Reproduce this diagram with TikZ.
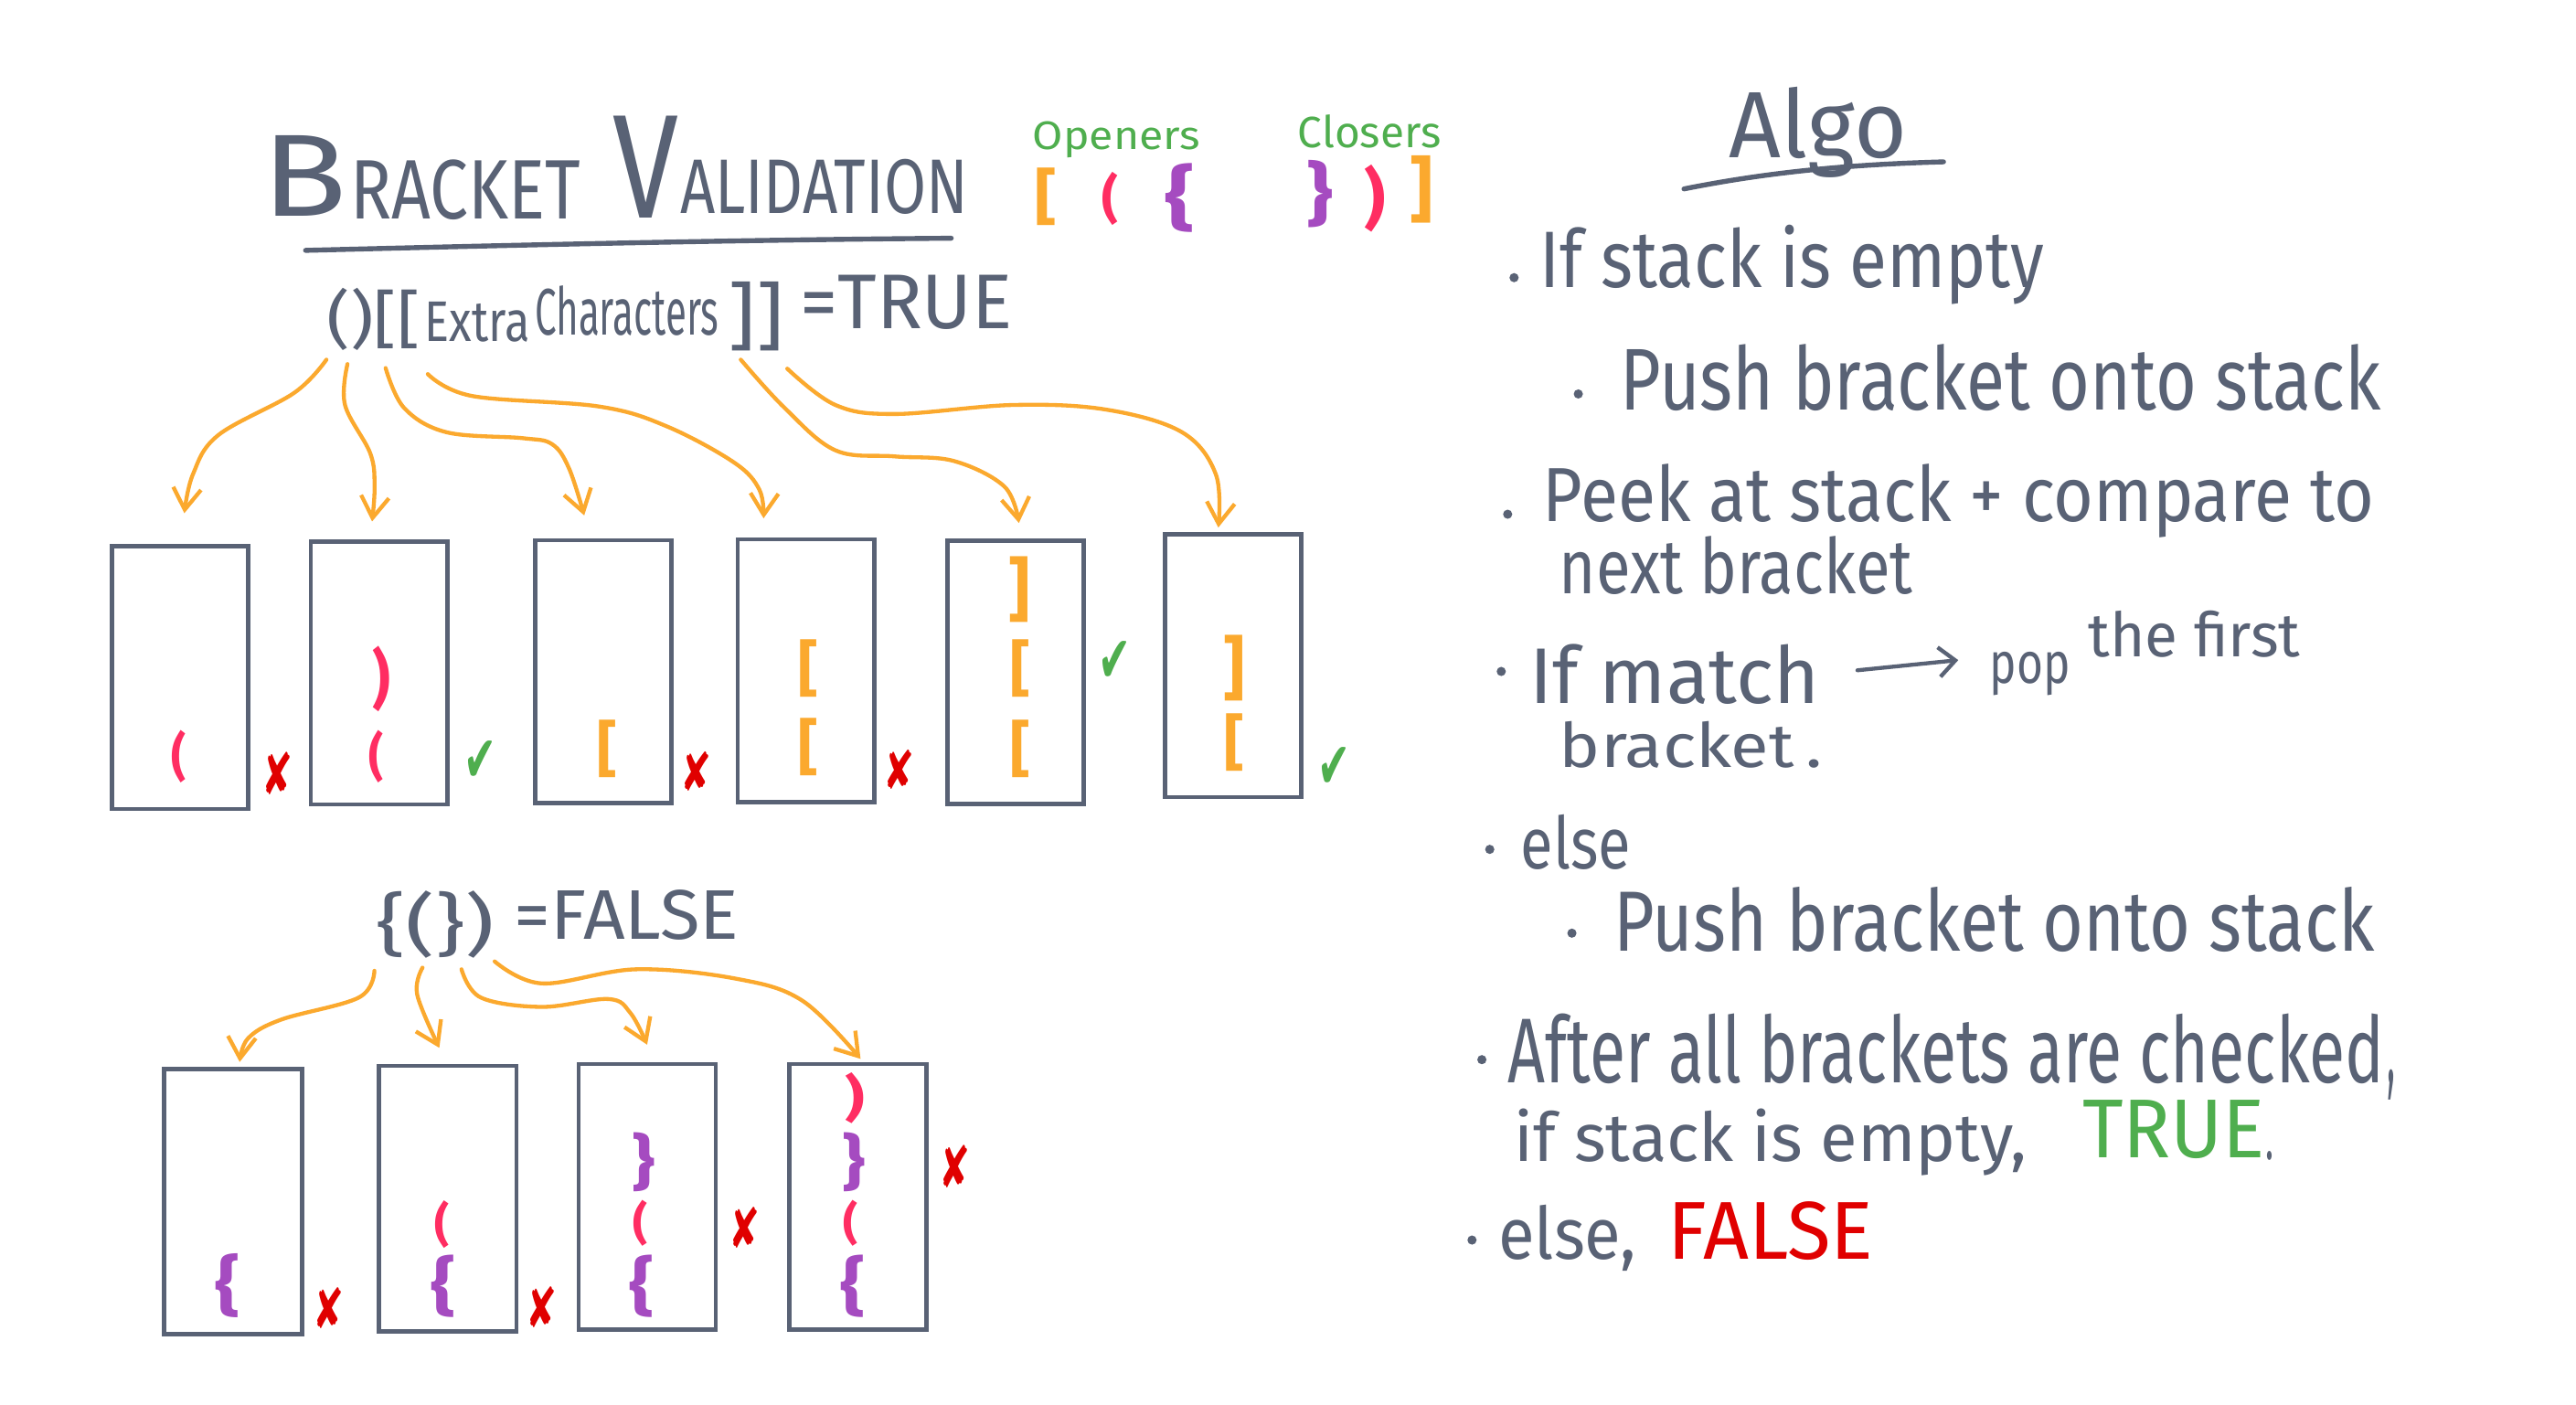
\documentclass[tikz,border=0pt]{standalone}
\usepackage{fontspec}
\setmainfont{Fira Sans}
\newfontfamily\symfont{DejaVu Sans}
\usetikzlibrary{arrows.meta}
\definecolor{ink}{HTML}{596275}
\definecolor{orng}{HTML}{FBA92E}
\definecolor{grn}{HTML}{4FAE4E}
\definecolor{pnk}{HTML}{FF2D62}
\definecolor{prp}{HTML}{A54BC0}
\definecolor{rd}{HTML}{E00000}
\newcommand{\hw}[3]{\resizebox{#1pt}{#2pt}{#3}}
\newcommand{\hwt}[3]{\resizebox*{#1pt}{#2pt}{#3}}
\begin{document}
\begin{tikzpicture}[x=1pt,y=-1pt,
  txt/.style={inner sep=0pt, anchor=base west, text=ink},
  glyph/.style={inner sep=0pt, anchor=north, font=\bfseries},
  tick/.style={inner sep=0pt, anchor=center, font=\symfont},
  stackbox/.style={draw=ink, line width=2.6pt, minimum width=83pt, minimum height=160pt, inner sep=0pt, anchor=north west},
  arr/.style={draw=orng, line width=2.4pt, line cap=round, line join=round, -{Straight Barb[length=13pt,width=17pt]}},
  ]
\useasboundingbox (0,0) rectangle (1568,855);
\fill[white] (0,0) rectangle (1568,855);

% ---------- Title ----------
\node[txt] (tB) at (159,131.7) {\hw{52}{49}{B}};
\node[txt] (tR) at (213,133) {\hw{140}{36}{RACKET}};
\node[txt] (tV) at (372.6,132.6) {\hw{40}{62}{V}};
\node[txt] (tA) at (414,130) {\hw{175}{33}{ALIDATION}};
\draw[ink, line width=3pt, line cap=round] (186,152.4) .. controls (320,149) and (450,146) .. (579,145);

% ---------- Openers / Closers ----------
\node[txt, text=grn] (op) at (628.4,90.9) {\hw{102}{17}{Openers}};
\node[txt, text=grn] (cl) at (789.9,89.9) {\hw{87}{20}{Closers}};
\node[glyph, text=orng] (o1) at (636.6,102) {\hwt{13}{35}{[}};
\node[glyph, text=pnk] (o2) at (675.6,104.8) {\hwt{10}{32.4}{(}};
\node[glyph, text=prp] (o3) at (718,99.2) {\hwt{18}{42}{\{}};
\node[glyph, text=prp] (c1) at (803.4,97.3) {\hwt{16}{41}{\}}};
\node[glyph, text=pnk] (c2) at (837,100) {\hwt{13}{41}{)}};
\node[glyph, text=orng] (c3) at (865,94.6) {\hwt{14}{41}{]}};

% ---------- Expression 1 ----------
\node[inner sep=0pt, anchor=north west, text=ink] (e1a) at (198.7,175) {\hwt{57}{38}{()[[}};
\node[txt] (e1b) at (258.3,207.7) {\hw{64}{24}{Extra}};
\node[txt] (e1c) at (325.4,204) {\hw{112}{30}{Characters}};
\node[inner sep=0pt, anchor=north west, text=ink] (e1d) at (443,171.6) {\hwt{34}{42}{]]}};
\node[txt] (e1e) at (486.8,200.3) {\hw{129}{32.5}{=TRUE}};

% ---------- Row 1 boxes ----------
\node[stackbox] (r1) at (66.9,331.2) {};
\node[stackbox] (r2) at (187.9,328.4) {};
\node[stackbox] (r3) at (324.3,327.5) {};
\node[stackbox] (r4) at (447.8,327) {};
\node[stackbox] (r5) at (575.4,327.9) {};
\node[stackbox] (r6) at (707.7,323.8) {};

\node[glyph, text=pnk] (r1g1) at (108.9,444.5) {\hwt{9}{32}{(}};
\node[glyph, text=pnk] (r2g1) at (232,392.9) {\hwt{11}{40}{)}};
\node[glyph, text=pnk] (r2g2) at (228.8,444.5) {\hwt{9}{32}{(}};
\node[glyph, text=orng] (r3g1) at (369.5,438) {\hwt{12}{35}{[}};
\node[glyph, text=orng] (r4g1) at (492,389) {\hwt{12}{35}{[}};
\node[glyph, text=orng] (r4g2) at (492,437) {\hwt{12}{35}{[}};
\node[glyph, text=orng] (r5g1) at (620.6,338.6) {\hwt{13}{40}{]}};
\node[glyph, text=orng] (r5g2) at (621,389) {\hwt{12}{35}{[}};
\node[glyph, text=orng] (r5g3) at (621,438) {\hwt{12}{35}{[}};
\node[glyph, text=orng] (r6g1) at (751.5,386.5) {\hwt{13}{40}{]}};
\node[glyph, text=orng] (r6g2) at (751.5,434.3) {\hwt{12}{35}{[}};

\node[tick, text=rd] (r1m) at (168.8,470.7) {\hwt{19}{26}{✘}};
\node[tick, text=grn] (r2m) at (292.3,463.4) {\hwt{20}{25}{✔}};
\node[tick, text=rd] (r3m) at (423.6,469.3) {\hwt{19}{24}{✘}};
\node[tick, text=rd] (r4m) at (547,468.4) {\hwt{19}{24}{✘}};
\node[tick, text=grn] (r5m) at (678.4,402.6) {\hwt{20}{25}{✔}};
\node[tick, text=grn] (r6m) at (812,467.5) {\hwt{20}{25}{✔}};

% ---------- Row 1 arrows ----------
\coordinate (a1s) at (198.7,218.9); \coordinate (a1e) at (112.2,312.4);
\coordinate (a2s) at (211.5,221.6); \coordinate (a2e) at (226.5,317.4);
\coordinate (a3s) at (234.7,224);   \coordinate (a3e) at (355.6,313.7);
\coordinate (a4s) at (260.4,227.7); \coordinate (a4e) at (464.8,315.5);
\coordinate (a5s) at (450.9,218.9); \coordinate (a5e) at (620.2,318.3);
\coordinate (a6s) at (479.2,224.4); \coordinate (a6e) at (741.6,321.1);
\draw[arr] plot[smooth, tension=0.6] coordinates {(a1s) (179.1,239.1) (132.8,264.9) (117.4,288.8) (a1e)};
\draw[arr] plot[smooth, tension=0.6] coordinates {(a2s) (210,246.5) (225.4,276) (228,296.2) (a2e)};
\draw[arr] plot[smooth, tension=0.6] coordinates {(a3s) (246,248.3) (271.8,263.1) (318.1,266.7) (336.1,270.4) (346.4,285.2) (a3e)};
\draw[arr] plot[smooth, tension=0.6] coordinates {(a4s) (287.2,241) (364.4,247.4) (405.6,259.4) (446.8,281.5) (462.2,298) (a4e)};
\draw[arr] plot[smooth, tension=0.6] coordinates {(a5s) (477.6,248.3) (508.5,274.1) (544.5,277.8) (580.6,280.6) (611.4,296.2) (a5e)};
\draw[arr] plot[smooth, tension=0.6] coordinates {(a6s) (508.5,246.5) (544.5,252) (616.6,246.5) (673.2,249.3) (719.5,263.1) (740.1,288.8) (a6e)};

% ---------- Expression 2 ----------
\node[inner sep=0pt, anchor=north west, text=ink] (e2a) at (228.6,542) {\hwt{72.5}{41}{\{(\})}};
\node[txt] (e2b) at (313,571.8) {\hw{136.5}{30}{=FALSE}};

% ---------- Row 2 boxes ----------
\node[stackbox, minimum width=84pt, minimum height=161.6pt] (s1) at (98.7,649.3) {};
\node[stackbox, minimum width=83.7pt, minimum height=161.6pt] (s2) at (229.3,647.4) {};
\node[stackbox, minimum width=83.4pt, minimum height=161.6pt] (s3) at (351,646.4) {};
\node[stackbox, minimum width=83.6pt, minimum height=161.6pt] (s4) at (479,646.4) {};

\node[glyph, text=prp] (s1g1) at (138.3,763) {\hwt{15}{39}{\{}};
\node[glyph, text=pnk] (s2g1) at (269,730.6) {\hwt{9}{29}{(}};
\node[glyph, text=prp] (s2g2) at (270,764) {\hwt{15}{38}{\{}};
\node[glyph, text=prp] (s3g1) at (392,689.4) {\hwt{14}{36}{\}}};
\node[glyph, text=pnk] (s3g2) at (390,730.6) {\hwt{9}{28}{(}};
\node[glyph, text=prp] (s3g3) at (390.5,764) {\hwt{15}{38}{\{}};
\node[glyph, text=pnk] (s4g1) at (520.4,653) {\hwt{12}{31}{)}};
\node[glyph, text=prp] (s4g2) at (520,689.4) {\hwt{14}{36}{\}}};
\node[glyph, text=pnk] (s4g3) at (518,730.6) {\hwt{9}{28}{(}};
\node[glyph, text=prp] (s4g4) at (519,764) {\hwt{15}{38}{\{}};

\node[tick, text=rd] (s1m) at (200,796.5) {\hwt{19}{25}{✘}};
\node[tick, text=rd] (s2m) at (329.8,795.5) {\hwt{19}{25}{✘}};
\node[tick, text=rd] (s3m) at (453,747.5) {\hwt{19}{25}{✘}};
\node[tick, text=rd] (s4m) at (581,710) {\hwt{19}{26}{✘}};

% ---------- Row 2 arrows ----------
\coordinate (b1s) at (227.9,590.9); \coordinate (b1e) at (145.9,646.4);
\coordinate (b2s) at (257.2,589);   \coordinate (b2e) at (267.4,637.8);
\coordinate (b3s) at (280.9,590);   \coordinate (b3e) at (393.9,635.9);
\coordinate (b4s) at (301.1,585.2); \coordinate (b4e) at (523.8,644.5);
\draw[arr] plot[smooth, tension=0.6] coordinates {(b1s) (218.4,607.2) (171.2,620.6) (151,632) (b1e)};
\draw[arr] plot[smooth, tension=0.6] coordinates {(b2s) (253.9,605.3) (b2e)};
\draw[arr] plot[smooth, tension=0.6] coordinates {(b3s) (292.7,607.2) (329.8,612.9) (370.3,608.1) (383.8,616.7) (b3e)};
\draw[arr] plot[smooth, tension=0.6] coordinates {(b4s) (329.8,598.6) (387.1,590) (447.9,595.7) (488.4,609.1) (b4e)};

% ---------- Algo ----------
\node[txt] (algo) at (1052.5,95.7) {\hw{108}{43}{Algo}};
\draw[ink, line width=3pt, line cap=round] (1025,115) .. controls (1080,104) and (1130,100) .. (1183,98.5);

\foreach \bx/\by in {921.6/169, 960.7/239.8, 917.7/313, 913.8/408.7, 906.8/517, 956.8/568, 902/645, 896/754.8}
  \fill[ink] (\bx,\by) circle (2.8);

\node[txt] (l1) at (937,175) {\hw{307}{38}{If stack is empty}};
\node[txt] (l2) at (986,249.5) {\hw{463}{40}{Push bracket onto stack}};
\node[txt] (l3) at (939,317.3) {\hw{506}{35}{Peek at stack + compare to}};
\node[txt] (l4) at (949,361.6) {\hw{215}{35}{next bracket}};
\node[txt] (l5a) at (931,428) {\hw{176}{36}{If match}};
\node[txt] (l5b) at (1211,415.7) {\hw{49}{19}{pop}};
\node[txt] (l5c) at (1271,400) {\hw{129}{28}{the first}};
\coordinate (m1) at (1130.6,408); \coordinate (m2) at (1192,401.8);
\draw[ink, line width=2.4pt, line cap=round, -{Straight Barb[length=10pt,width=18pt]}] (m1) -- (m2);
\node[txt] (l6) at (949,467) {\hw{160}{28}{bracket\,.}};
\node[txt] (l7) at (925.6,528.8) {\hw{67}{33}{else}};
\node[txt] (l8) at (982,578.9) {\hw{463}{39}{Push bracket onto stack}};
\node[txt] (l9) at (917.7,659) {\hw{533}{42}{After all brackets are checked}};
\node[txt] (l9c) at (1453,659) {\hw{5}{8}{,}};
\node[txt] (l10a) at (921.6,706.8) {\hw{312}{32}{if stack is empty,}};
\node[txt, text=grn] (l10b) at (1267.4,704.6) {\hw{111}{35}{TRUE}};
\node[txt] (l10c) at (1379,706) {\hw{5}{5}{.}};
\node[txt] (l11a) at (911.9,766.5) {\hw{84}{33}{else,}};
\node[txt, text=rd] (l11b) at (1015,766.5) {\hw{125}{35}{FALSE}};
\end{tikzpicture}
\end{document}
